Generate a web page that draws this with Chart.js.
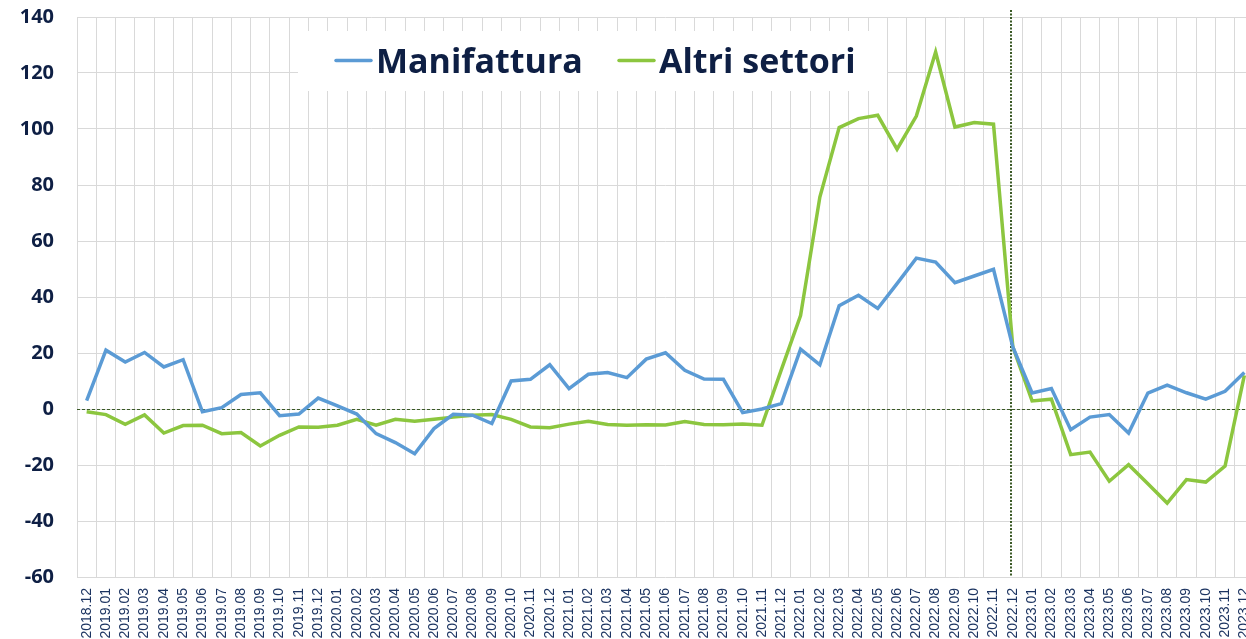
<!DOCTYPE html>
<html>
<head>
<meta charset="utf-8">
<script src="https://cdn.jsdelivr.net/npm/chart.js@4"></script>
<style>
  html, body { margin: 0; padding: 0; background: #fff; overflow: hidden; }
  #wrap { width: 1254px; height: 639px; }
</style>
</head>
<body>
<div id="wrap"><canvas id="chart" width="1254" height="639"></canvas></div>
<script>
  // months shown on the x axis
  const months = [
    "2018.12",
    "2019.01", "2019.02", "2019.03", "2019.04", "2019.05", "2019.06",
    "2019.07", "2019.08", "2019.09", "2019.10", "2019.11", "2019.12",
    "2020.01", "2020.02", "2020.03", "2020.04", "2020.05", "2020.06",
    "2020.07", "2020.08", "2020.09", "2020.10", "2020.11", "2020.12",
    "2021.01", "2021.02", "2021.03", "2021.04", "2021.05", "2021.06",
    "2021.07", "2021.08", "2021.09", "2021.10", "2021.11", "2021.12",
    "2022.01", "2022.02", "2022.03", "2022.04", "2022.05", "2022.06",
    "2022.07", "2022.08", "2022.09", "2022.10", "2022.11", "2022.12",
    "2023.01", "2023.02", "2023.03", "2023.04", "2023.05", "2023.06",
    "2023.07", "2023.08", "2023.09", "2023.10", "2023.11", "2023.12"
  ];

  const manifattura = [
    3,
    21, 16.8, 20.2, 15, 17.6, -1,
    0.5, 5.2, 5.8, -2.4, -1.8, 3.9,
    1.1, -1.8, -8.8, -12, -16, -7,
    -1.9, -2.2, -5.2, 10, 10.6, 15.8,
    7.3, 12.4, 13, 11.2, 17.8, 20.1,
    13.8, 10.7, 10.6, -1.3, 0, 1.9,
    21.4, 15.8, 36.9, 40.6, 35.9, 44.8,
    53.9, 52.5, 45.1, 47.5, 49.9, 22.2,
    5.7, 7.3, -7.4, -2.9, -2, -8.6,
    5.7, 8.5, 5.8, 3.5, 6.3, 13
  ];

  const altriSettori = [
    -1,
    -2, -5.5, -2.1, -8.6, -5.9, -5.8,
    -8.8, -8.4, -13.2, -9.4, -6.4, -6.5,
    -5.8, -3.7, -5.8, -3.7, -4.4, -3.7,
    -2.9, -2.2, -2, -3.7, -6.4, -6.7,
    -5.4, -4.4, -5.5, -5.8, -5.6, -5.7,
    -4.5, -5.5, -5.6, -5.4, -5.8, 14,
    33.4, 75.7, 100.5, 103.7, 104.9, 92.8,
    104.6, 127.5, 100.7, 102.3, 101.7, 22.2,
    2.9, 3.5, -16.3, -15.4, -25.8, -19.9,
    -26.7, -33.6, -25.2, -26.1, -20.4, 12
  ];

  const yTicks = { min: -60, max: 140, step: 20 };
  const markerMonth = "2022.12";

  const BLUE = "#5b9bd5";
  const GREEN = "#8cc63f";
  const NAVY = "#0e1f44";
  const GRID = "#d9d9d9";
  const REF = "#3b5a26";

  // zero line + vertical marker, drawn under the series
  const refLines = {
    id: "refLines",
    beforeDatasetsDraw(chart) {
      const { ctx, chartArea: a, scales: { x, y } } = chart;
      ctx.save();
      const y0 = Math.round(y.getPixelForValue(0)) + 0.5;
      ctx.strokeStyle = REF;
      ctx.lineWidth = 1;
      ctx.setLineDash([3, 2]);
      ctx.beginPath();
      ctx.moveTo(a.left, y0);
      ctx.lineTo(a.right, y0);
      ctx.stroke();

      const xm = Math.round(x.getPixelForValue(months.indexOf(markerMonth))) - 2;
      ctx.lineWidth = 2;
      ctx.setLineDash([2, 1.5]);
      ctx.beginPath();
      ctx.moveTo(xm, a.top - 7);
      ctx.lineTo(xm, a.bottom);
      ctx.stroke();
      ctx.restore();
    }
  };

  // legend sitting on a white box inside the plot
  const boxLegend = {
    id: "boxLegend",
    beforeDatasetsDraw(chart) {
      const { ctx } = chart;
      ctx.save();
      ctx.fillStyle = "#ffffff";
      ctx.fillRect(298, 31, 589, 60);
      const items = [
        { x: 336, color: BLUE, text: chart.data.datasets[0].label },
        { x: 619, color: GREEN, text: chart.data.datasets[1].label }
      ];
      ctx.font = "bold 34px 'Open Sans'";
      ctx.textBaseline = "alphabetic";
      ctx.textAlign = "left";
      for (const it of items) {
        ctx.strokeStyle = it.color;
        ctx.lineWidth = 3.5;
        ctx.lineCap = "round";
        ctx.beginPath();
        ctx.moveTo(it.x, 60.5);
        ctx.lineTo(it.x + 35, 60.5);
        ctx.stroke();
        ctx.fillStyle = NAVY;
        ctx.fillText(it.text, it.x + 40, 72.5);
      }
      ctx.restore();
    }
  };

  const ctx = document.getElementById("chart").getContext("2d");
  new Chart(ctx, {
    type: "line",
    data: {
      labels: months,
      datasets: [
        {
          label: "Manifattura",
          data: manifattura,
          borderColor: BLUE,
          backgroundColor: BLUE,
          borderWidth: 3.5,
          pointRadius: 0,
          tension: 0
        },
        {
          label: "Altri settori",
          data: altriSettori,
          borderColor: GREEN,
          backgroundColor: GREEN,
          borderWidth: 3.5,
          pointRadius: 0,
          tension: 0
        }
      ]
    },
    options: {
      responsive: false,
      animation: false,
      layout: { padding: { top: 17, right: 0, bottom: 0, left: 0 } },
      plugins: {
        legend: { display: false },
        tooltip: { enabled: false }
      },
      scales: {
        x: {
          offset: true,
          grid: {
            offset: true,
            drawTicks: false,
            color: (c) => (c.index === months.indexOf(markerMonth) ? "rgba(0,0,0,0)" : GRID),
            lineWidth: 1
          },
          border: { display: false },
          ticks: {
            autoSkip: false,
            minRotation: 90,
            maxRotation: 90,
            padding: 11,
            color: "#1c3461",
            font: { family: "'Liberation Sans', Arial, sans-serif", size: 14 }
          },
          afterFit(scale) {
            scale.height = 62;
            scale.paddingLeft = 0;
            scale.paddingRight = 0;
          }
        },
        y: {
          min: yTicks.min,
          max: yTicks.max,
          grid: { color: GRID, drawTicks: false, lineWidth: 1 },
          border: { display: false },
          ticks: {
            stepSize: yTicks.step,
            padding: 23,
            color: NAVY,
            font: { family: "'Open Sans', sans-serif", size: 20, weight: "bold" }
          },
          afterFit(scale) {
            scale.width = 77;
            scale.paddingTop = 0;
            scale.paddingBottom = 0;
          }
        }
      }
    },
    plugins: [refLines, boxLegend]
  });
</script>
</body>
</html>
